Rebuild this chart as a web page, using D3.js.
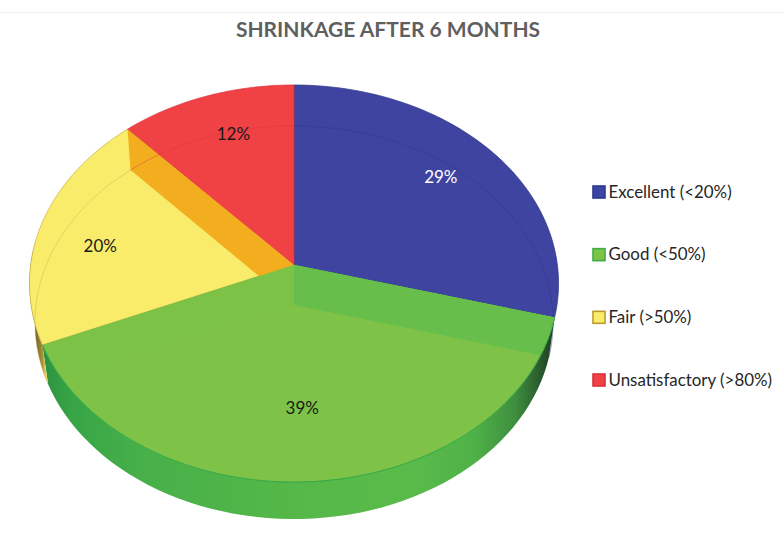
<!DOCTYPE html>
<html><head><meta charset="utf-8">
<script src="https://cdn.jsdelivr.net/npm/d3@7"></script>
<style>html,body{margin:0;background:#fff}svg{display:block}text{font-family:Lato,"Open Sans",sans-serif}</style>
</head><body><svg id="c" width="784" height="553"></svg>
<script>
const categories=["Excellent (<20%)","Good (<50%)","Fair (>50%)","Unsatisfactory (>80%)"];
const values=[29.2,39.4,19.6,11.8];
const topColors=["#3F44A0","#7EC348","#F8EC6A","#F04145"];
const edgeColors=["#2F3488","#3FAE49","#C9B04A","#D8343A"];
const legendStroke=["#2B3990","#3FAE49","#BE9A2E","#D8343A"];
const legendFill=["#3F44A0","#7EC348","#F8EC6A","#F04145"];
const title="SHRINKAGE AFTER 6 MONTHS";

const svg=d3.select("#c");
const pie=d3.pie().value(d=>d).sort(null)(values);

// perspective projection of a unit disc into each of the two planes
const plane=(cy,rx,ry,k)=>(a,r=1)=>{
  const u=r*Math.sin(a), v=-r*Math.cos(a), w=1-k*v;
  return [294+rx*u/w, cy+ry*v/w];
};
const T=plane(265,263.4,196.8,0.0932);
const B=plane(305,258,195,0.089);
const line=d3.line();
const arcPts=(p,a0,a1)=>d3.range(0,61).map(i=>p(a0+(a1-a0)*i/60));
const sector=(p,a0,a1)=>line([p(0,0),...arcPts(p,a0,a1)])+"Z";

const defs=svg.append("defs");
const g1=defs.append("linearGradient").attr("id","wallG").attr("gradientUnits","userSpaceOnUse")
  .attr("x1",40).attr("x2",556).attr("y1",0).attr("y2",0);
[[0,"#2C8F3F"],[.06,"#37A546"],[.2,"#47B049"],[.5,"#55B848"],[.72,"#5ABB4A"],[.84,"#4FB248"],[.92,"#3F8F3E"],[.97,"#2A5A2C"],[1,"#1D3A20"]]
  .forEach(s=>g1.append("stop").attr("offset",s[0]).attr("stop-color",s[1]));
const g2=defs.append("linearGradient").attr("id","wallY").attr("gradientUnits","userSpaceOnUse")
  .attr("x1",33).attr("x2",50).attr("y1",0).attr("y2",0);
[[0,"#5E5226"],[.55,"#A8903A"],[.75,"#E8D660"],[1,"#F8EC6A"]]
  .forEach(s=>g2.append("stop").attr("offset",s[0]).attr("stop-color",s[1]));

const [sE,sG,sF,sU]=pie;
const wall=(a0,a1)=>line([...arcPts(T,a0,a1),...arcPts(B,a1,a0)])+"Z";
defs.append("clipPath").attr("id","goodClip").append("path").attr("d",sector(T,sG.startAngle,sG.endAngle));

// faint rule above the title
svg.append("line").attr("x1",0).attr("x2",784).attr("y1",12.5).attr("y2",12.5).attr("stroke","#efefef");

// outer walls
svg.append("path").attr("d",wall(sG.startAngle,sG.endAngle)).attr("fill","url(#wallG)");
svg.append("path").attr("d",wall(sF.startAngle,sF.startAngle+0.5)).attr("fill","url(#wallY)");

// top faces
pie.forEach((s,i)=>{
  svg.append("path").attr("d",sector(T,s.startAngle,s.endAngle))
    .attr("fill",topColors[i]).attr("stroke",edgeColors[i]).attr("stroke-width",.7).attr("stroke-linejoin","round");
});

// radial wall of the Fair slice seen through the Unsatisfactory face
const radial=(a)=>line([T(0,0),T(a),B(a),B(0,0)])+"Z";
svg.append("path").attr("d",radial(sU.startAngle)).attr("fill","#F2AE1E");

// hidden rim of the lower disc, seen through the faces
pie.forEach((s,i)=>{
  if(i===1) return;
  svg.append("path").attr("d",line(arcPts(B,s.startAngle,s.endAngle))).attr("fill","none")
    .attr("stroke",edgeColors[i]).attr("stroke-opacity",.55).attr("stroke-width",.8);
});

// Good face above what it hides, with its radial walls showing through
svg.append("path").attr("d",sector(T,sG.startAngle,sG.endAngle)).attr("fill",topColors[1]);
const walls=svg.append("g").attr("clip-path","url(#goodClip)");
walls.append("path").attr("d",radial(sG.endAngle)).attr("fill","#7BC247");
walls.append("path").attr("d",radial(sG.startAngle)).attr("fill","#68BE4A");

// rim of the top face over the front wall
svg.append("path").attr("d",line(arcPts(T,sG.startAngle,sG.endAngle))).attr("fill","none")
  .attr("stroke","#36A948").attr("stroke-width",1);

// title
svg.append("text").attr("x",388).attr("y",37).attr("text-anchor","middle")
  .attr("font-size",21).attr("font-weight",700).attr("fill","#5f5f5f").text(title);

// slice labels
const labelRadius=[.7,.68,.76,.72];
const labelShift=[[6,-7],[-5,0],[-1,12],[4,-7]];
pie.forEach((s,i)=>{
  const p=T((s.startAngle+s.endAngle)/2,labelRadius[i]);
  svg.append("text").attr("x",p[0]+labelShift[i][0]).attr("y",p[1]+labelShift[i][1]+6)
    .attr("text-anchor","middle").attr("font-size",17)
    .attr("fill",i===0?"#fff":"#1a1a1a").text(d3.format(".0f")(s.value)+"%");
});

// legend
const ly=d3.scalePoint().domain(categories).range([192,380]);
categories.forEach((c,i)=>{
  const y=ly(c);
  svg.append("rect").attr("x",593).attr("y",y-6).attr("width",12).attr("height",12)
    .attr("fill",legendFill[i]).attr("stroke",legendStroke[i]).attr("stroke-width",1.6);
  svg.append("text").attr("x",608.5).attr("y",y+5.5).attr("font-size",16.9).attr("fill","#262626").text(c);
});
</script></body></html>
